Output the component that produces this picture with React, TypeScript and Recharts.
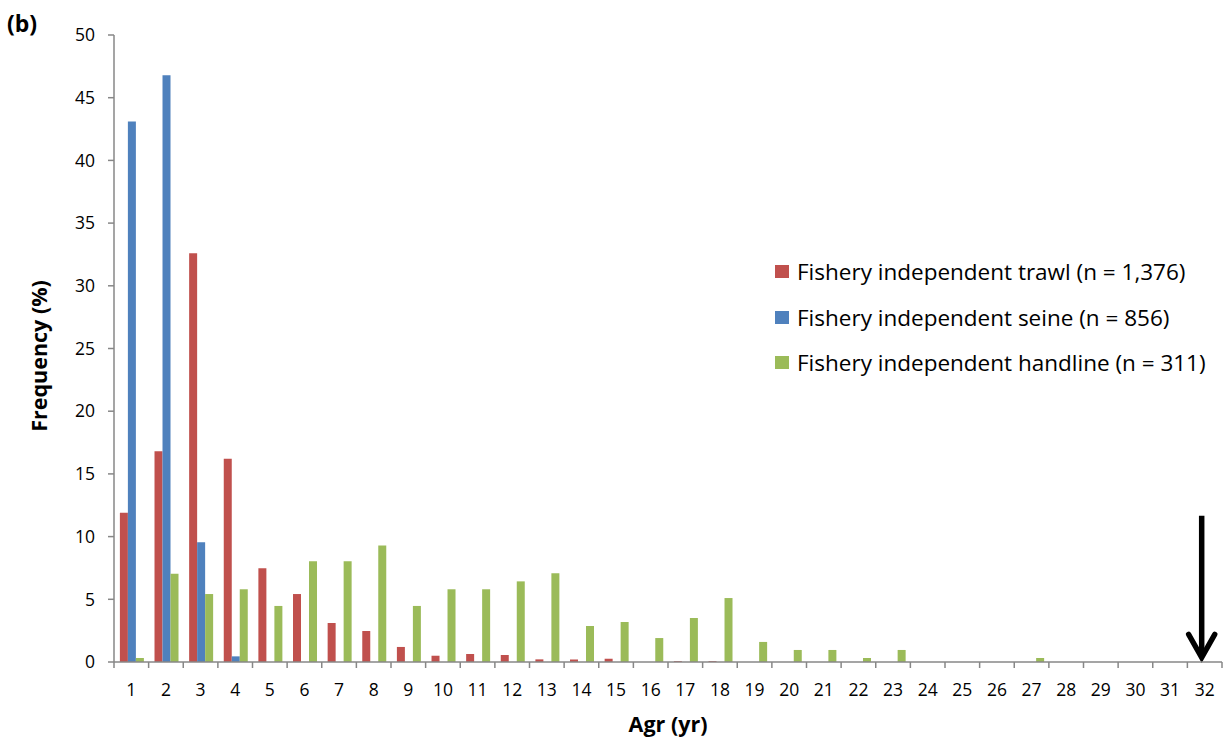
import { BarChart, Bar, XAxis, YAxis, ReferenceLine } from "recharts";

const ages = [
  1, 2, 3, 4, 5, 6, 7, 8, 9, 10, 11, 12, 13, 14, 15, 16,
  17, 18, 19, 20, 21, 22, 23, 24, 25, 26, 27, 28, 29, 30, 31, 32,
];
const trawl = [
  11.9, 16.8, 32.6, 16.2, 7.47, 5.42, 3.11, 2.47, 1.2, 0.5, 0.64, 0.56, 0.21, 0.2, 0.26, 0,
  0.07, 0.07, 0, 0, 0, 0, 0, 0, 0, 0, 0, 0, 0, 0, 0, 0,
];
const seine = [
  43.1, 46.8, 9.54, 0.45, 0, 0, 0, 0, 0, 0, 0, 0, 0, 0, 0, 0,
  0, 0, 0, 0, 0, 0, 0, 0, 0, 0, 0, 0, 0, 0, 0, 0,
];
const handline = [
  0.32, 7.04, 5.42, 5.8, 4.47, 8.03, 8.03, 9.3, 4.47, 5.8, 5.8, 6.43, 7.07, 2.87, 3.19, 1.91,
  3.51, 5.1, 1.6, 0.96, 0.96, 0.32, 0.96, 0, 0, 0, 0.32, 0, 0, 0, 0, 0,
];
const yTicks = [0, 5, 10, 15, 20, 25, 30, 35, 40, 45, 50];

const seriesNames = [
  "Fishery independent trawl (n = 1,376)",
  "Fishery independent seine (n = 856)",
  "Fishery independent handline (n = 311)",
];
const colors = ["#C0504D", "#4F81BD", "#9BBB59"];

const data = ages.map((a, i) => ({
  age: a,
  trawl: trawl[i],
  seine: seine[i],
  handline: handline[i],
}));

const W = 1230;
const H = 744;
const LEFT = 114;
const RIGHT = 8;
const band = (W - LEFT - RIGHT) / ages.length;
const FONT = "'Open Sans', sans-serif";
const AXIS = "#878787";

// category ticks sit on the boundaries between groups, labels in the middle
const XTick = (props: any) => {
  const { x, y, payload, index } = props;
  const left = x - band / 2;
  return (
    <g>
      <line x1={left} y1={y} x2={left} y2={y + 6} stroke={AXIS} strokeWidth={1.5} />
      {index === ages.length - 1 && (
        <line x1={x + band / 2} y1={y} x2={x + band / 2} y2={y + 6} stroke={AXIS} strokeWidth={1.5} />
      )}
      <text x={x} y={y + 27} textAnchor="middle" dominantBaseline="central" fontSize={17.5} fill="#000" fontFamily={FONT}>
        {payload.value}
      </text>
    </g>
  );
};

const Arrow = (props: any) => {
  const { x1, y1, y2 } = props;
  const x = x1 - 3;
  return (
    <g>
      <line x1={x} y1={y1} x2={x} y2={y2 - 3} stroke="#000" strokeWidth={5.5} />
      <polyline
        points={`${x - 13},${y2 - 25} ${x},${y2 - 2} ${x + 13},${y2 - 25}`}
        fill="none"
        stroke="#000"
        strokeWidth={5.5}
        strokeLinecap="round"
        strokeLinejoin="miter"
      />
    </g>
  );
};

export default function App() {
  return (
    <div style={{ position: "absolute", left: 0, top: 0, width: W, height: H, background: "#fff" }}>
      <div style={{ position: "absolute", left: 7, top: 7, fontFamily: FONT, fontWeight: "bold", fontSize: 23 }}>
        (b)
      </div>
      <div style={{ position: "absolute", left: 775, top: 249, fontFamily: FONT, fontSize: 22.5, color: "#000" }}>
        {seriesNames.map((n, i) => (
          <div key={n} style={{ display: "flex", alignItems: "center", height: 45.5, whiteSpace: "nowrap" }}>
            <span style={{ width: 14, height: 13, background: colors[i], marginRight: 8, display: "inline-block" }} />
            {n}
          </div>
        ))}
      </div>
      <BarChart
        width={W}
        height={H}
        data={data}
        margin={{ top: 35, right: RIGHT, left: 0, bottom: 0 }}
        barCategoryGap="17%"
        barGap={0}
      >
        <XAxis
          dataKey="age"
          height={82}
          stroke={AXIS}
          strokeWidth={1.5}
          tickLine={false}
          tickSize={0}
          tickMargin={0}
          interval={0}
          tick={<XTick />}
          label={{
            value: "Agr (yr)",
            position: "insideBottom",
            offset: 12,
            style: { fontFamily: FONT, fontWeight: "bold", fontSize: 21.5, fill: "#000" },
          }}
        />
        <YAxis
          width={LEFT}
          domain={[0, 50]}
          ticks={yTicks}
          interval={0}
          stroke={AXIS}
          strokeWidth={1.5}
          tickSize={6}
          tickMargin={13}
          tick={{ fontFamily: FONT, fontSize: 17.5, fill: "#000" }}
          label={{
            content: ({ viewBox }: any) => (
              <text
                x={38}
                y={356}
                transform={`rotate(-90, 38, 356)`}
                textAnchor="middle"
                dominantBaseline="central"
                fontFamily={FONT}
                fontWeight="bold"
                fontSize={21.5}
                fill="#000"
              >
                Frequency (%)
              </text>
            ),
          }}
        />
        <Bar dataKey="trawl" name={seriesNames[0]} fill={colors[0]} isAnimationActive={false} />
        <Bar dataKey="seine" name={seriesNames[1]} fill={colors[1]} isAnimationActive={false} />
        <Bar dataKey="handline" name={seriesNames[2]} fill={colors[2]} isAnimationActive={false} />
        <ReferenceLine
          segment={[
            { x: 32, y: 11.67 },
            { x: 32, y: 0.2 },
          ]}
          shape={<Arrow />}
          ifOverflow="visible"
        />
      </BarChart>
    </div>
  );
}
